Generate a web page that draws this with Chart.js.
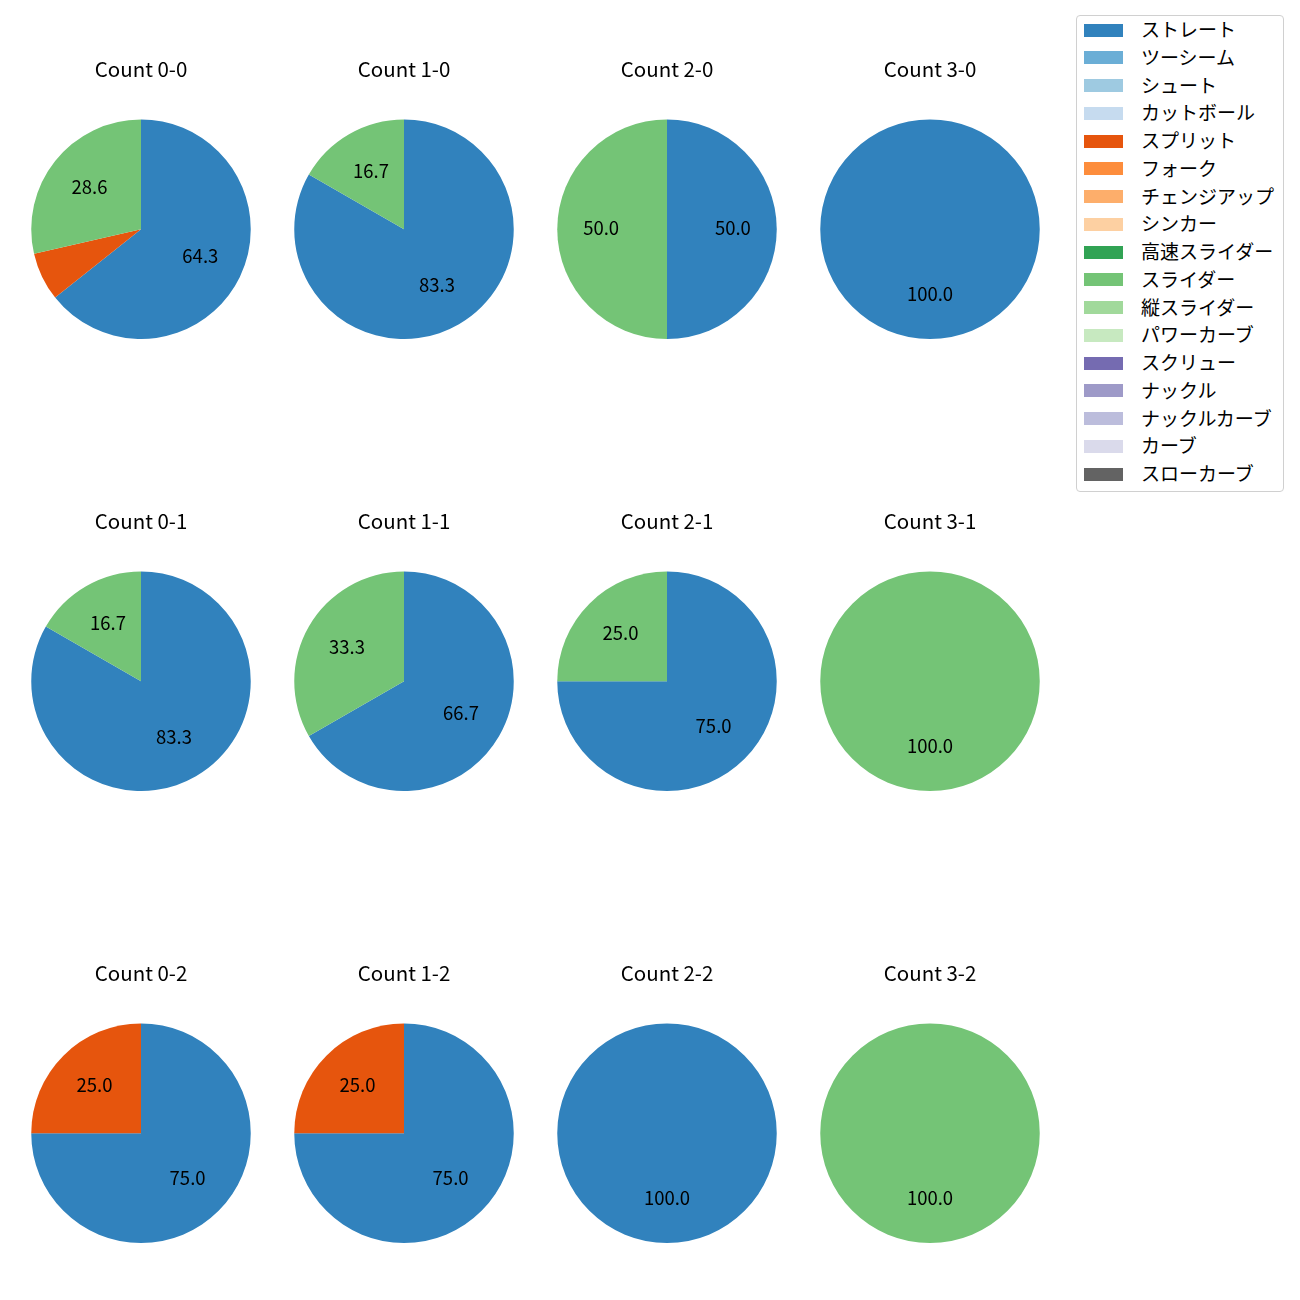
<!DOCTYPE html>
<html>
<head>
<meta charset="utf-8">
<script src="https://cdn.jsdelivr.net/npm/chart.js@4.4.1/dist/chart.umd.min.js"></script>
<style>
  html, body { margin: 0; padding: 0; background: #ffffff; }
  body { width: 1300px; height: 1300px; position: relative; overflow: hidden; font-family: "Noto Sans CJK JP", "Noto Sans", sans-serif; }
  .cell { position: absolute; width: 260px; height: 282px; }
  #legend { position: absolute; left: 1076px; top: 15px; width: 208px; height: 477px; border: 1px solid #d0d0d0; border-radius: 4px; background: #fff; box-sizing: border-box; }
  .item { position: absolute; left: 0; height: 20px; }
  .patch { position: absolute; left: 7px; width: 39px; height: 13px; }
  .lbl { position: absolute; left: 64px; top: -1px; font-size: 19px; line-height: 20px; color: #000; white-space: nowrap; }
</style>
</head>
<body>
<div id="legend"></div>
<script>
// Pitch types (legend order) and their colours
const pitchTypes = ["ストレート","ツーシーム","シュート","カットボール","スプリット","フォーク","チェンジアップ","シンカー","高速スライダー","スライダー","縦スライダー","パワーカーブ","スクリュー","ナックル","ナックルカーブ","カーブ","スローカーブ"];
const pitchColors = ["#3182bd","#6baed6","#9ecae1","#c6dbef","#e6550d","#fd8d3c","#fdae6b","#fdd0a2","#31a354","#74c476","#a1d99b","#c7e9c0","#756bb1","#9e9ac8","#bcbddc","#dadaeb","#636363"];

// Counts (balls-strikes), in grid order
const counts = ["0-0","1-0","2-0","3-0","0-1","1-1","2-1","3-1","0-2","1-2","2-2","3-2"];

// Percentage share per count for the pitch types that appear
const straightPct = [64.3, 83.3, 50.0, 100.0, 83.3, 66.7, 75.0, 0.0, 75.0, 75.0, 100.0, 0.0];
const splitPct    = [7.1, 0.0, 0.0, 0.0, 0.0, 0.0, 0.0, 0.0, 25.0, 25.0, 0.0, 0.0];
const sliderPct   = [28.6, 16.7, 50.0, 0.0, 16.7, 33.3, 25.0, 100.0, 0.0, 0.0, 0.0, 100.0];

const seriesByType = { "ストレート": straightPct, "スプリット": splitPct, "スライダー": sliderPct };

// Legend (HTML)
const legend = document.getElementById('legend');
pitchTypes.forEach((name, i) => {
  const it = document.createElement('div');
  it.className = 'item';
  it.style.top = (4 + i * 27.75) + 'px';
  it.innerHTML = '<div class="patch" style="top:3.5px;background:' + pitchColors[i] + '"></div><div class="lbl">' + name + '</div>';
  legend.appendChild(it);
});

const pctLabelPlugin = {
  id: 'pctLabels',
  afterDatasetsDraw(chart) {
    const ctx = chart.ctx;
    const ds = chart.data.datasets[0];
    const meta = chart.getDatasetMeta(0);
    const total = ds.data.reduce((a, b) => a + b, 0);
    ctx.save();
    ctx.font = '18.5px "Noto Sans CJK JP", "Noto Sans", sans-serif';
    ctx.fillStyle = '#000';
    ctx.textAlign = 'center';
    ctx.textBaseline = 'middle';
    meta.data.forEach((arc, i) => {
      const v = ds.data[i];
      const p = v / total * 100;
      if (p < 10) return;
      const mid = (arc.startAngle + arc.endAngle) / 2;
      const r = arc.outerRadius * 0.6;
      ctx.fillText(p.toFixed(1), arc.x + Math.cos(mid) * r, arc.y + Math.sin(mid) * r - 1.5);
    });
    ctx.restore();
  }
};

const colX = [141, 404, 667, 930];
const rowTitleY = [68.5, 521, 973];

counts.forEach((cnt, k) => {
  const col = k % 4, row = Math.floor(k / 4);
  const div = document.createElement('div');
  div.className = 'cell';
  div.style.left = (colX[col] - 130) + 'px';
  div.style.top = (rowTitleY[row] - 12) + 'px';
  const cv = document.createElement('canvas');
  cv.width = 260; cv.height = 282;
  div.appendChild(cv);
  document.body.appendChild(div);

  const data = [], colors = [], labels = [];
  pitchTypes.forEach((t, i) => {
    const s = seriesByType[t];
    const v = s ? s[k] : 0;
    if (v > 0) { data.push(v); colors.push(pitchColors[i]); labels.push(t); }
  });

  new Chart(cv, {
    type: 'pie',
    data: { labels: labels, datasets: [{ data: data, backgroundColor: colors, borderWidth: 0, hoverOffset: 0 }] },
    options: {
      responsive: false,
      animation: false,
      layout: { padding: 0 },
      plugins: {
        legend: { display: false },
        tooltip: { enabled: false },
        title: { display: true, text: 'Count ' + cnt, color: '#000', font: { size: 20.5, family: '"Noto Sans CJK JP", "Noto Sans", sans-serif', weight: 'normal', lineHeight: 1.2 }, padding: { top: 0, bottom: 37.9 } }
      }
    },
    plugins: [pctLabelPlugin]
  });
});
</script>
</body>
</html>
